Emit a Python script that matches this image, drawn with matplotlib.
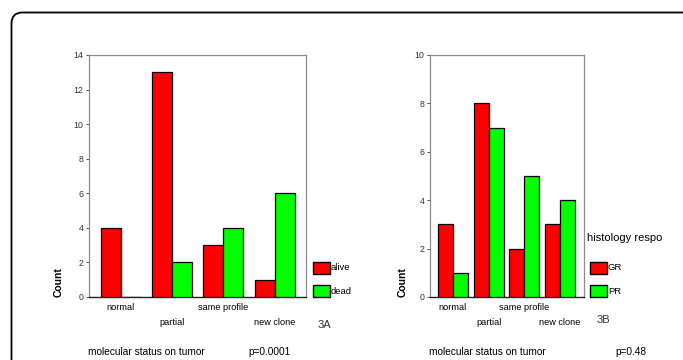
import matplotlib
matplotlib.use("Agg")
import matplotlib.pyplot as plt
from matplotlib.patches import FancyBboxPatch, Rectangle
from matplotlib.transforms import IdentityTransform
import numpy as np

plt.rcParams['font.family'] = ['Liberation Sans', 'DejaVu Sans']

categories = ["normal", "partial", "same profile", "new clone"]
alive = [4, 13, 3, 1]
dead = [0, 2, 4, 6]
gr = [3, 8, 2, 3]
pr = [1, 7, 5, 4]
yticks_a = [0, 2, 4, 6, 8, 10, 12, 14]
yticks_b = [0, 2, 4, 6, 8, 10]

RED = "#ff0000"
GREEN = "#00ff00"

W, H = 683, 360
fig = plt.figure(figsize=(W / 100, H / 100), dpi=100)

# outer rounded frame (pixel coordinates)
frame = FancyBboxPatch((11.5, -60), 800, H - 12.5 + 60,
                       boxstyle="round,pad=0,rounding_size=11",
                       transform=IdentityTransform(), fill=False,
                       edgecolor="black", linewidth=1.3)
fig.patches.append(frame)


def make_panel(rect, v1, v2, yt, width, xlim, names, legend_title, fig_label,
               label_pos, pval, pval_x, leg_x, count_x, title_pos=None):
    ax = fig.add_axes(rect)
    x = np.arange(len(categories))
    ax.bar(x - width / 2, v1, width, color=RED, edgecolor="black", linewidth=0.9, zorder=3)
    ax.bar(x + width / 2, v2, width, color=GREEN, edgecolor="black", linewidth=0.9, zorder=3)
    ax.set_xlim(*xlim)
    ax.set_ylim(0, yt[-1])
    ax.set_yticks(yt)
    ax.set_yticklabels([str(v) for v in yt], fontsize=6.3)
    ax.tick_params(axis="y", length=2.5, width=0.6, pad=1.5, colors="#333333")
    ax.set_xticks(x)
    ax.set_xticklabels([])
    ax.tick_params(axis="x", length=0)
    for i, c in enumerate(categories):
        off = -0.025 if i % 2 == 0 else -0.088
        ax.text(x[i], off, c, transform=ax.get_xaxis_transform(), ha="center",
                va="top", fontsize=6.6)
    for s in ["left", "top", "right"]:
        ax.spines[s].set_color("#8c8c8c")
        ax.spines[s].set_linewidth(0.9)
    ax.spines["bottom"].set_color("#222222")
    ax.spines["bottom"].set_linewidth(1.0)
    fig.text(count_x / W, 1 - 297 / H, "Count", fontsize=7.5, fontweight="bold",
             rotation=90, ha="center", va="bottom")
    # legend
    for col, name, ytop in [(RED, names[0], 262), (GREEN, names[1], 285)]:
        fig.patches.append(Rectangle((leg_x / W, 1 - (ytop + 12) / H), 17 / W, 12 / H,
                                     transform=fig.transFigure, facecolor=col,
                                     edgecolor="black", linewidth=1.0))
        fig.text((leg_x + 18) / W, 1 - (ytop + 6) / H, name, fontsize=6.8,
                 va="center", ha="left")
    if legend_title:
        fig.text(title_pos[0] / W, 1 - title_pos[1] / H, legend_title, fontsize=8,
                 va="center", ha="left")
    fig.text(label_pos[0] / W, 1 - label_pos[1] / H, fig_label, fontsize=8,
             va="center", ha="left", color="#333333")
    fig.text(rect[0] - 1 / W, 1 - 352 / H, "molecular status on tumor", fontsize=7.3,
             va="center", ha="left")
    fig.text(pval_x / W, 1 - 352 / H, pval, fontsize=7.3, va="center", ha="left")
    return ax


make_panel([89 / W, 63 / H, 217 / W, 242 / H], alive, dead, yticks_a, 0.39,
           (-0.62, 3.61), ["alive", "dead"], None, "3A", (318, 325),
           "p=0.0001", 248, 313, 59)
make_panel([430 / W, 63 / H, 154 / W, 242 / H], gr, pr, yticks_b, 0.42,
           (-0.64, 3.67), ["GR", "PR"], "histology respo", "3B", (597, 320),
           "p=0.48", 615, 590, 403, title_pos=(587, 238))

fig.savefig("out.png", dpi=100)
